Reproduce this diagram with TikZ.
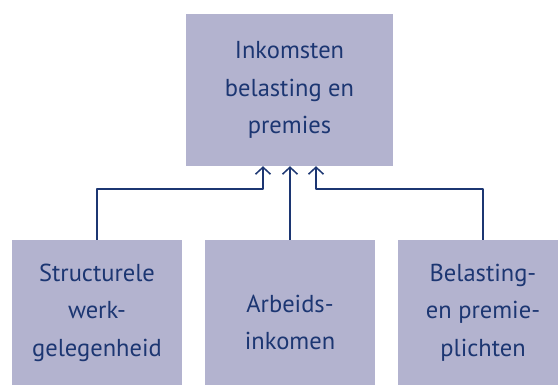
\documentclass[tikz,border=0pt]{standalone}
\usepackage{fontspec}
\setmainfont{PT Sans}
\usetikzlibrary{arrows.meta}
\definecolor{vak}{RGB}{179,179,207}
\definecolor{navy}{RGB}{28,54,114}
\begin{document}
\begin{tikzpicture}[x=1pt, y=1pt, line join=round,
  font=\fontsize{24.5}{37.5}\selectfont, text=navy,
  blok/.style={fill=vak, draw=none, align=center, inner sep=0pt},
  pijl/.style={draw=navy, line width=1.5pt, -{Straight Barb[length=7pt, width=15pt, line width=1.5pt]}}]
\useasboundingbox (0,0) rectangle (558,385);
%Bovenste vak
\node[blok, minimum width=207, minimum height=152] (belasting) at (289.5,295) {Inkomsten\\belasting en\\premies};
%Onderste vakken
\node[blok, minimum width=170, minimum height=145] (werk) at (97,72.5) {Structurele\\werk-\\gelegenheid};
\node[blok, minimum width=170, minimum height=145] (inkomen) at (290,72.5) {\mbox{}\\Arbeids-\\inkomen};
\node[blok, minimum width=170, minimum height=145] (plicht) at (483,72.5) {Belasting-\\en premie-\\plichten};
%Pijlen
\draw[pijl] (werk.north) |- (180,196) -| ([xshift=-26.5]belasting.south);
\draw[pijl] (inkomen.north) -- (inkomen.north |- belasting.south);
\draw[pijl] (plicht.north) |- (400,196) -| ([xshift=26.5]belasting.south);
\end{tikzpicture}
\end{document}
